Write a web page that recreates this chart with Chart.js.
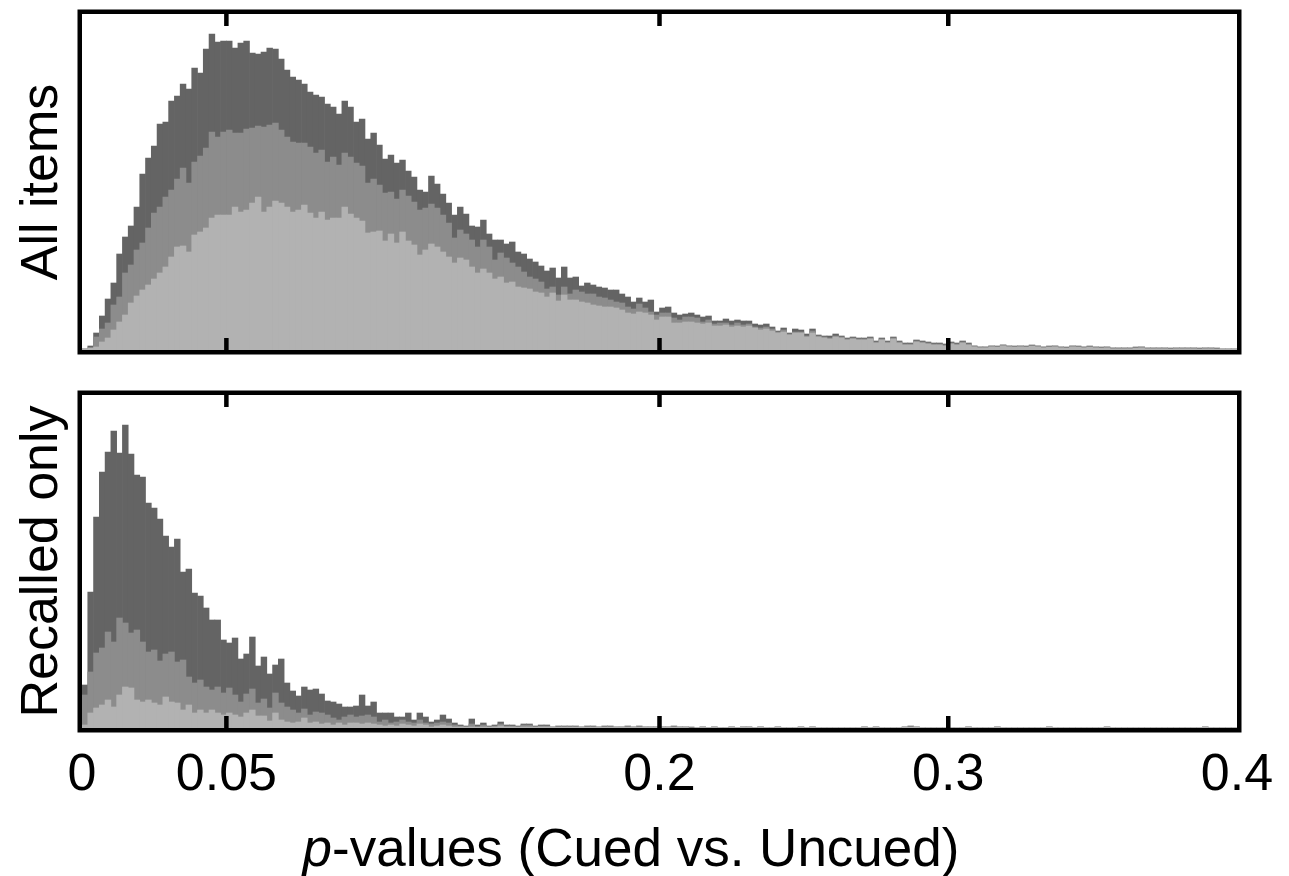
<!DOCTYPE html>
<html>
<head>
<meta charset="utf-8">
<script src="https://cdn.jsdelivr.net/npm/chart.js@4.4.1/dist/chart.umd.min.js"></script>
<style>
  body { margin: 0; background: #fff; }
  #wrap { position: relative; width: 1289px; height: 876px; overflow: hidden; }
  #wrap canvas { position: absolute; left: 0; top: 0; }
  #xTitle {
    position: absolute; left: 0; top: 821px; width: 1262px;
    text-align: center; font: 53px/1 "Liberation Sans", Arial, sans-serif; color: #000;
  }
</style>
</head>
<body>
<div id="wrap">
  <canvas id="topChart" width="1289" height="876"></canvas>
  <canvas id="botChart" width="1289" height="876"></canvas>
  <div id="xTitle"><i>p</i>-values (Cued vs. Uncued)</div>
</div>
<script>
// histogram bins: 0 .. 0.4, width 0.002 (200 bins)
const binStart = 0;
const binWidth = 0.002;

const tickValues = [0, 0.05, 0.2, 0.3, 0.4];
const tickLabels = ["0", "0.05", "0.2", "0.3", "0.4"];
const innerTicks = [0.05, 0.2, 0.3];

const panelLabels = ["All items", "Recalled only"];

// All items
const topDark = [1,4,17,34,51,67,96,113,124,143,
  176,192,204,226,228,249,254,266,261,282,
  277,301,316,308,309,309,302,307,309,297,
  296,298,302,301,291,280,273,270,266,258,
  255,253,246,243,236,249,243,228,231,211,
  217,205,191,195,187,190,179,173,160,158,
  174,166,156,147,135,143,136,124,123,130,
  116,110,110,106,108,98,96,91,88,84,
  79,82,72,83,72,73,64,67,65,63,
  62,60,60,56,53,48,52,48,50,38,
  42,43,37,35,36,37,35,33,34,29,
  29,31,29,30,29,29,26,25,26,23,
  19,22,17,21,20,16,21,15,14,14,
  16,14,12,13,12,12,13,9,12,9,
  13,9,7,7,10,9,8,7,7,6,
  8,7,9,7,4,3,3,4,4,5,
  4,4,4,4,5,4,3,4,4,3,
  3,4,4,3,4,3,3,3,2,2,
  2,2,3,3,2,2,2,2,2,2,
  2,2,2,2,2,2,2,1,1,1];

const topMid = [1,2,13,21,27,45,53,77,85,100,
  107,122,137,143,153,160,171,182,167,188,
  194,202,218,213,218,220,217,217,221,222,
  224,223,225,227,220,213,208,207,207,203,
  197,200,188,193,185,197,193,187,184,167,
  171,165,157,158,151,160,154,148,140,142,
  146,142,135,127,112,120,116,110,103,110,
  103,90,97,92,87,83,78,73,71,68,
  61,63,55,63,56,60,58,56,56,53,
  52,50,48,47,43,41,46,42,38,35,
  37,37,32,30,33,33,32,28,30,26,
  27,27,25,27,25,26,23,22,23,21,
  18,20,16,18,18,14,19,14,13,12,
  14,13,11,12,11,11,12,8,11,8,
  12,8,6,6,9,8,7,6,6,5,
  7,6,8,6,4,3,3,4,3,5,
  4,3,4,3,4,4,3,3,4,3,
  2,4,3,3,3,3,2,3,2,2,
  2,2,2,3,2,2,2,2,1,2,
  2,2,2,1,2,2,1,1,1,1];

const topLight = [1,2,3,8,12,20,28,35,47,54,
  60,65,71,77,83,93,103,104,98,115,
  118,122,132,135,135,135,143,138,140,147,
  153,138,143,149,147,143,138,140,145,137,
  132,138,130,132,132,143,136,132,129,117,
  118,119,109,116,107,118,109,105,95,100,
  106,103,98,93,87,92,90,83,77,81,
  77,71,73,67,68,63,62,61,58,57,
  53,57,49,55,50,50,48,47,45,44,
  43,43,42,40,37,36,38,37,35,30,
  33,33,27,27,28,28,27,26,27,24,
  24,25,23,24,23,24,22,20,21,19,
  17,18,15,17,17,13,17,13,12,11,
  13,12,10,11,10,10,11,7,10,7,
  11,7,5,5,8,7,6,5,5,4,
  6,5,7,5,3,2,2,3,3,4,
  3,3,3,3,4,3,2,3,3,2,
  2,3,3,2,3,2,2,2,1,1,
  1,1,2,2,1,1,1,1,1,1,
  1,1,1,1,1,1,1,1,1,1];

// Recalled only
const botDark = [43,136,211,256,276,297,275,303,274,253,
  251,225,220,209,192,181,189,156,159,135,
  132,120,108,108,88,85,90,69,74,91,
  62,71,54,63,69,45,37,32,41,38,
  39,34,27,26,24,21,21,22,33,22,
  26,15,15,15,11,11,15,8,15,11,
  6,8,13,9,5,3,2,9,3,5,
  2,3,6,3,3,2,4,4,2,3,
  3,1,2,2,2,2,1,2,2,1,
  2,2,1,1,2,1,2,1,1,1,
  1,1,2,1,1,1,0,1,0,1,
  0,0,1,0,1,1,0,1,0,0,
  1,0,0,0,1,0,1,0,0,0,
  0,0,0,0,0,1,0,1,0,0,
  0,0,1,2,1,0,0,0,0,0,
  0,0,0,1,0,0,0,0,1,0,
  0,0,0,0,0,0,0,1,0,0,
  0,0,0,0,0,0,0,1,0,0,
  0,0,0,0,0,0,0,0,0,0,
  0,0,0,0,1,0,0,0,0,0];

const botMid = [33,56,75,80,96,86,110,105,95,98,
  86,76,78,67,74,76,66,68,51,45,
  48,41,38,41,35,40,33,26,34,39,
  25,29,20,35,25,21,18,15,19,13,
  16,15,13,10,8,11,13,11,12,13,
  11,6,8,5,6,8,6,5,8,5,
  4,5,6,5,3,2,1,4,1,3,
  1,2,4,2,2,1,3,3,1,2,
  2,1,1,1,1,1,1,1,1,1,
  1,1,1,1,1,1,1,1,1,1,
  1,1,1,1,1,0,0,1,0,1,
  0,0,1,0,1,1,0,1,0,0,
  1,0,0,0,1,0,1,0,0,0,
  0,0,0,0,0,1,0,1,0,0,
  0,0,1,1,1,0,0,0,0,0,
  0,0,0,1,0,0,0,0,1,0,
  0,0,0,0,0,0,0,1,0,0,
  0,0,0,0,0,0,0,1,0,0,
  0,0,0,0,0,0,0,0,0,0,
  0,0,0,0,1,0,0,0,0,0];

const botLight = [3,15,20,23,28,21,33,41,40,28,
  26,28,25,23,31,26,25,18,23,15,
  18,15,18,15,13,15,13,11,15,18,
  12,12,7,15,8,6,5,6,10,5,
  6,4,5,3,5,3,5,5,4,5,
  4,3,2,3,2,4,3,2,4,3,
  1,2,3,2,1,1,1,1,1,1,
  1,1,2,1,1,1,1,1,1,1,
  1,1,1,1,1,1,1,1,1,1,
  1,1,1,1,1,1,1,1,1,1,
  1,1,1,1,1,0,0,1,0,1,
  0,0,1,0,1,1,0,1,0,0,
  1,0,0,0,1,0,1,0,0,0,
  0,0,0,0,0,1,0,1,0,0,
  0,0,1,1,1,0,0,0,0,0,
  0,0,0,1,0,0,0,0,1,0,
  0,0,0,0,0,0,0,1,0,0,
  0,0,0,0,0,0,0,1,0,0,
  0,0,0,0,0,0,0,0,0,0,
  0,0,0,0,1,0,0,0,0,0];

const LIGHT = "rgb(178,178,178)";
const MID = "rgb(140,140,140)";
const DARK = "rgb(100,100,100)";
const FONT = "'Liberation Sans', Arial, sans-serif";

Chart.defaults.font.family = FONT;
Chart.defaults.color = "#000";

function toPoints(vals){
  return vals.map((v,i) => ({x: binStart + (i + 0.5) * binWidth, y: v}));
}

function barSet(vals, color){
  return {
    data: toPoints(vals),
    backgroundColor: color,
    borderWidth: 0,
    grouped: false,
    barPercentage: 1,
    categoryPercentage: 1
  };
}

// black frame + inward tick marks, top and bottom edge
const frame = {
  id: "frame",
  afterDatasetsDraw(chart){
    const {ctx, chartArea: a, scales} = chart;
    ctx.save();
    ctx.strokeStyle = "#000";
    ctx.lineWidth = 4.5;
    ctx.strokeRect(a.left - 2.25, a.top - 2.25, a.right - a.left + 4.5, a.bottom - a.top + 4.5);
    ctx.beginPath();
    innerTicks.forEach(v => {
      const px = scales.x.getPixelForValue(v);
      ctx.moveTo(px, a.top);
      ctx.lineTo(px, a.top + 12);
      ctx.moveTo(px, a.bottom);
      ctx.lineTo(px, a.bottom - 12);
    });
    ctx.stroke();
    ctx.restore();
  }
};

function makePanel(id, label, light, mid, dark, yMax, padding, showX){
  return new Chart(document.getElementById(id), {
    type: "bar",
    data: {
      datasets: [barSet(light, LIGHT), barSet(mid, MID), barSet(dark, DARK)]
    },
    options: {
      responsive: false,
      animation: false,
      events: [],
      layout: {padding: padding},
      plugins: {legend: {display: false}, tooltip: {enabled: false}},
      scales: {
        x: {
          type: "linear",
          min: 0,
          max: 0.4,
          offset: false,
          display: showX,
          grid: {display: false},
          border: {display: false},
          afterBuildTicks: axis => { axis.ticks = tickValues.map(v => ({value: v})); },
          afterFit: axis => { axis.height = showX ? 80 : 0; },
          ticks: {
            autoSkip: false,
            maxRotation: 0,
            padding: 8,
            font: {size: 52},
            color: "#000",
            callback: (v) => tickLabels[tickValues.indexOf(v)]
          }
        },
        y: {
          min: 0,
          max: yMax,
          grid: {display: false},
          border: {display: false},
          ticks: {display: false},
          afterFit: axis => { axis.width = 82; },
          title: {
            display: true,
            text: label,
            color: "#000",
            font: {size: 52},
            padding: {top: 11, bottom: 0}
          }
        }
      }
    },
    plugins: [frame]
  });
}

makePanel("topChart", panelLabels[0], topLight, topMid, topDark, 336,
  {left: 0, right: 52, top: 14, bottom: 526}, false);
makePanel("botChart", panelLabels[1], botLight, botMid, botDark, 333,
  {left: 0, right: 52, top: 395, bottom: 68}, true);
</script>
</body>
</html>
